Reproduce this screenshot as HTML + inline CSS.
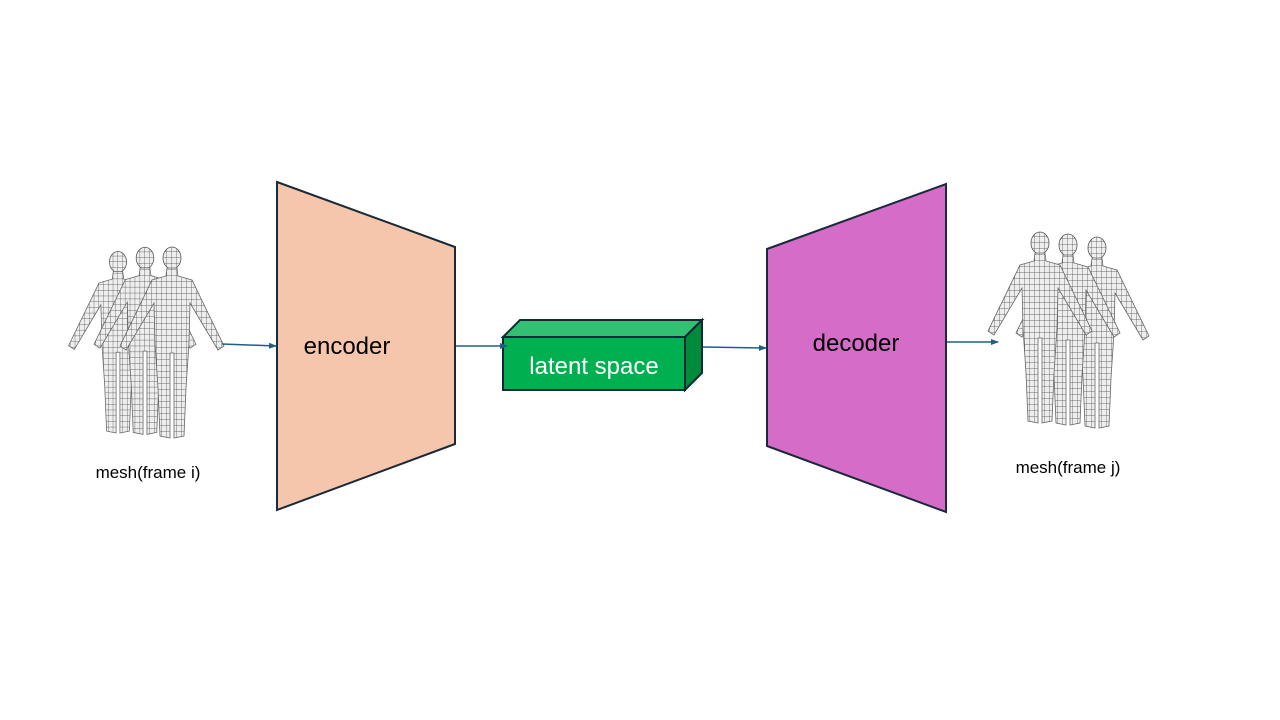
<!DOCTYPE html>
<html><head><meta charset="utf-8"><style>
html,body{margin:0;padding:0;background:#fff;}
svg{display:block;}
text{font-family:"Liberation Sans","Noto Sans CJK KR",sans-serif;}
</style></head><body>
<svg width="1280" height="720" viewBox="0 0 1280 720" xmlns="http://www.w3.org/2000/svg">
<defs>
<pattern id="grid" width="5" height="6" patternUnits="userSpaceOnUse">
<rect width="5" height="6" fill="#eeeeee"/>
<path d="M5 0V6M0 6H5" stroke="#444" stroke-width="0.7"/>
</pattern>
<g id="fig">
<ellipse cx="0" cy="0" rx="9" ry="11" fill="url(#grid)" stroke="#555" stroke-width="0.8"/>
<path d="M-5,10 L5,10 L6,18 L20,22 L52,88 L46,92 L18,45 L17,85 L14,130 L12,178 L2,180 L2,95 L-2,95 L-2,180 L-12,178 L-14,130 L-17,85 L-18,45 L-46,92 L-52,88 L-20,22 L-6,18 Z" fill="url(#grid)" stroke="#666" stroke-width="0.8"/>
</g>
<marker id="ar" markerWidth="8" markerHeight="8" refX="7" refY="4" orient="auto" markerUnits="userSpaceOnUse"><path d="M0,1 L8,4 L0,7 Z" fill="#1f5f86"/></marker>
</defs>

<use href="#fig" transform="translate(118,262) scale(0.95)"/>
<use href="#fig" transform="translate(145,258) scale(0.98)"/>
<use href="#fig" transform="translate(172,258)"/>
<text x="148" y="478" font-size="17" text-anchor="middle" fill="#000">mesh(frame i)</text>

<use href="#fig" transform="translate(1097,248)"/>
<use href="#fig" transform="translate(1068,245)"/>
<use href="#fig" transform="translate(1040,243)"/>
<text x="1068" y="473" font-size="17" text-anchor="middle" fill="#000">mesh(frame j)</text>

<polygon points="277,182 455,247 455,444 277,510" fill="#f5c6ab" stroke="#1a2a3a" stroke-width="2"/>
<text x="347" y="354" font-size="24" text-anchor="middle" fill="#000">encoder</text>

<polygon points="767,249 946,184 946,512 767,446" fill="#d46cc8" stroke="#1a2a3a" stroke-width="2"/>
<text x="856" y="351" font-size="24" text-anchor="middle" fill="#000">decoder</text>

<polygon points="503,337 520,320 702,320 685,337" fill="#33c072" stroke="#0f2a33" stroke-width="2"/>
<polygon points="685,337 702,320 702,373 685,390" fill="#008a3c" stroke="#0f2a33" stroke-width="2"/>
<rect x="503" y="337" width="182" height="53" fill="#00b050" stroke="#0f2a33" stroke-width="2"/>
<text x="594" y="374" font-size="24" text-anchor="middle" fill="#fff">latent space</text>

<g stroke="#1f5f86" stroke-width="1.5" fill="none">
<line x1="222" y1="344" x2="276" y2="346" marker-end="url(#ar)"/>
<line x1="456" y1="346" x2="507" y2="346" marker-end="url(#ar)"/>
<line x1="703" y1="347" x2="766" y2="348" marker-end="url(#ar)"/>
<line x1="947" y1="342" x2="998" y2="342" marker-end="url(#ar)"/>
</g>
</svg>
</body></html>
